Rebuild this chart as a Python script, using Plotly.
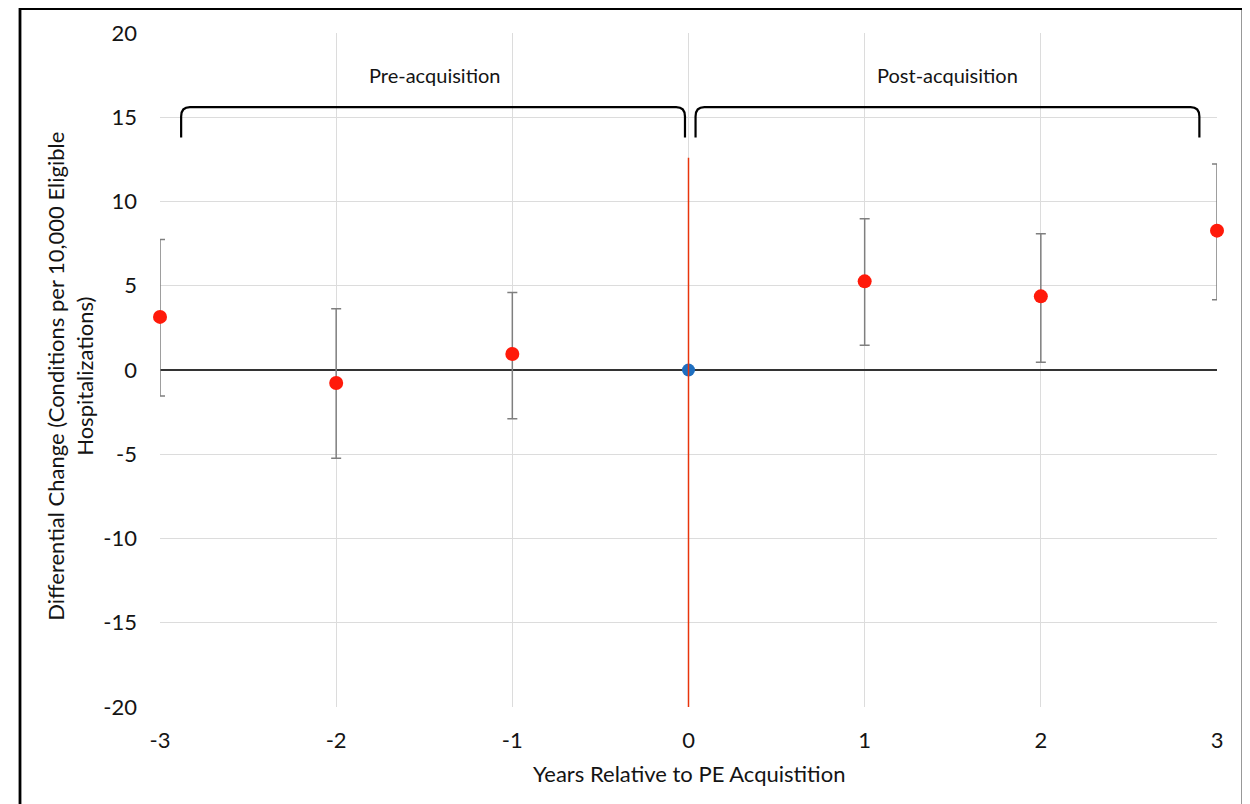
import plotly.graph_objects as go

# ---- data ----
years = [-3, -2, -1, 1, 2, 3]
estimate = [3.15, -0.77, 0.95, 5.26, 4.37, 8.27]
ci_high = [7.74, 3.63, 4.60, 8.97, 8.08, 12.22]
ci_low = [-1.55, -5.24, -2.90, 1.47, 0.46, 4.17]
ref_year = [0]
ref_value = [0]
x_ticks = [-3, -2, -1, 0, 1, 2, 3]
y_ticks = [-20, -15, -10, -5, 0, 5, 10, 15, 20]

err_plus = [h - e for h, e in zip(ci_high, estimate)]
err_minus = [e - l for e, l in zip(estimate, ci_low)]

FONT = "Lato"
TXT = "#141414"
# the page adds an 8px body margin, so figure coords = page coords - 8
W, H = 1242, 796
L, R, T, B = 152, 33, 25, 97
pw, ph = W - L - R, H - T - B

def px_x(p):
    return (p - L) / pw

def px_y(p):
    return (H - B - p) / ph

fig = go.Figure()

fig.add_trace(go.Scatter(
    x=years, y=estimate, mode="markers",
    marker=dict(color="#ff1a0a", size=14, line=dict(width=0)),
    error_y=dict(type="data", symmetric=False, array=err_plus, arrayminus=err_minus,
                 color="#7f7f7f", thickness=1.5, width=5),
    cliponaxis=False, showlegend=False,
))
fig.add_trace(go.Scatter(
    x=ref_year, y=ref_value, mode="markers",
    marker=dict(color="#1f6fc0", size=13, line=dict(width=0)),
    cliponaxis=False, showlegend=False,
))

shapes = []
# red vertical line at acquisition
shapes.append(dict(type="line", xref="x", yref="y", x0=0, x1=0, y0=-20, y1=12.6,
                   line=dict(color="#e8340c", width=1.5), layer="above"))

# brackets
def bracket(x0, x1, ytop=15.6, ybot=13.8, rx=0.05, ry=0.55):
    path = (f"M {x0},{ybot} L {x0},{ytop - ry} Q {x0},{ytop} {x0 + rx},{ytop} "
            f"L {x1 - rx},{ytop} Q {x1},{ytop} {x1},{ytop - ry} L {x1},{ybot}")
    return dict(type="path", xref="x", yref="y", path=path,
                line=dict(color="black", width=2.2), layer="above")

shapes.append(bracket(-2.88, -0.02))
shapes.append(bracket(0.04, 2.90))
# outer frame
shapes.append(dict(type="rect", xref="paper", yref="paper",
                   x0=px_x(12), x1=px_x(1235), y0=px_y(830), y1=px_y(0.5),
                   line=dict(color="black", width=2.8), fillcolor="rgba(0,0,0,0)"))

annotations = [
    dict(x=-1.44, y=17.5, xref="x", yref="y", text="Pre-acquisition", showarrow=False,
         font=dict(family=FONT, size=20, color=TXT)),
    dict(x=1.47, y=17.5, xref="x", yref="y", text="Post-acquisition", showarrow=False,
         font=dict(family=FONT, size=20, color=TXT)),
    dict(x=px_x(62), y=0.49, xref="paper", yref="paper",
         text="Differential Change (Conditions per 10,000 Eligible<br>Hospitalizations)",
         textangle=-90, showarrow=False, xanchor="center", yanchor="middle",
         font=dict(family=FONT, size=22, color=TXT)),
    dict(x=0.5, y=px_y(765), xref="paper", yref="paper",
         text="Years Relative to PE Acquistition", showarrow=False,
         xanchor="center", yanchor="middle",
         font=dict(family=FONT, size=22, color=TXT)),
]

fig.update_layout(
    width=W, height=H,
    margin=dict(l=L, r=R, t=T, b=B),
    paper_bgcolor="white", plot_bgcolor="white",
    shapes=shapes, annotations=annotations,
    font=dict(family=FONT, size=22, color=TXT),
)
fig.update_xaxes(range=[-3, 3], tickvals=x_ticks, ticktext=[str(v) for v in x_ticks],
                 showgrid=True, gridcolor="#dcdcdc", gridwidth=1, zeroline=False,
                 showline=False, ticks="", ticklabelstandoff=18,
                 tickfont=dict(family=FONT, size=22, color=TXT))
fig.update_yaxes(range=[-20, 20], tickvals=y_ticks, ticktext=[str(v) for v in y_ticks],
                 showgrid=True, gridcolor="#dcdcdc", gridwidth=1,
                 zeroline=True, zerolinecolor="#333333", zerolinewidth=2,
                 showline=False, ticks="", ticklabelstandoff=22,
                 tickfont=dict(family=FONT, size=22, color=TXT))

fig.write_html("out.html")
